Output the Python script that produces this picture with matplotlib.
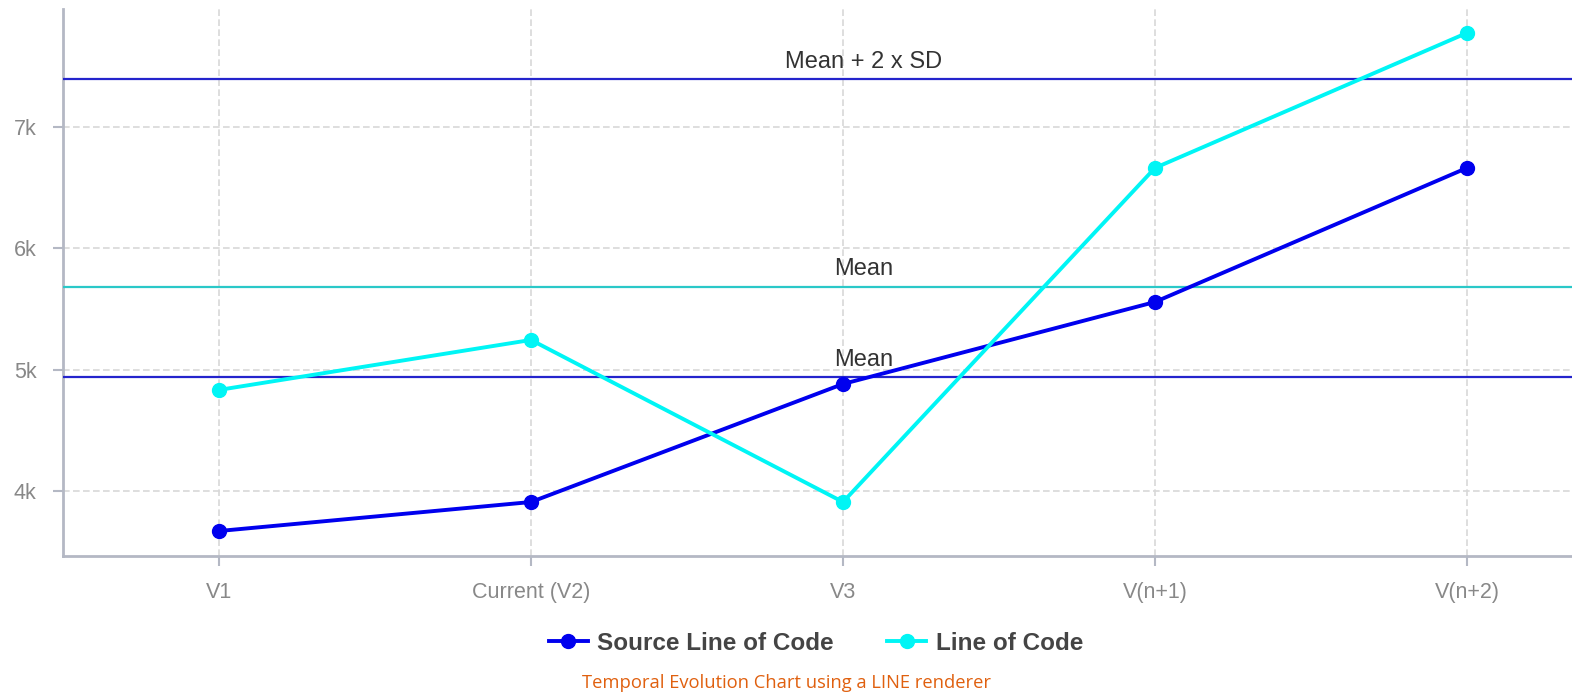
import numpy as np
import matplotlib.pyplot as plt
from matplotlib.ticker import FuncFormatter

plt.rcParams["font.family"] = ["Liberation Sans", "DejaVu Sans"]

versions = ["V1", "Current (V2)", "V3", "V(n+1)", "V(n+2)"]
source_loc = [3670, 3909, 4882, 5558, 6663]
line_loc = [4833, 5245, 3909, 6663, 7776]

BLUE = "#0000ee"
CYAN = "#00f5f5"

fig = plt.figure(figsize=(15.72, 6.97), dpi=100)
ax = fig.add_axes([63 / 1572, 1 - 556 / 697, 1 - 63 / 1572, (556 - 9) / 697])

x = np.arange(len(versions))
ax.plot(x, source_loc, color=BLUE, lw=2.8, marker="o", ms=10, zorder=4,
        label="Source Line of Code")
ax.plot(x, line_loc, color=CYAN, lw=2.8, marker="o", ms=10, zorder=4,
        label="Line of Code")

# reference lines from the data
src_mean = np.mean(source_loc)
src_sd = np.std(source_loc, ddof=1)
loc_mean = np.mean(line_loc)
ax.axhline(src_mean + 2 * src_sd, color="#2424cc", lw=1.6, zorder=3)
ax.axhline(loc_mean, color="#2ac8c8", lw=1.6, zorder=3)
ax.axhline(src_mean, color="#2424cc", lw=1.6, zorder=3)

lx = 2.065
for yv, txt in [(src_mean + 2 * src_sd, "Mean + 2 x SD"), (loc_mean, "Mean"), (src_mean, "Mean")]:
    ax.text(lx, yv + 50, txt, ha="center", va="bottom",
            fontsize=17, color="#333333", zorder=5)

ax.set_xlim(-0.5, -0.5 + (1572 - 63) / 312)
ax.set_ylim(3464, 7973)
ax.set_xticks(x)
ax.set_xticklabels(versions)
ax.set_yticks([4000, 5000, 6000, 7000])
ax.yaxis.set_major_formatter(FuncFormatter(lambda v, p: f"{int(v / 1000)}k"))

ax.grid(True, color="#d8d8d8", lw=1.2, ls=(0, (4, 2)), zorder=0)
for side in ["top", "right"]:
    ax.spines[side].set_visible(False)
for side in ["left", "bottom"]:
    ax.spines[side].set_color("#b4b8c4")
    ax.spines[side].set_linewidth(2)
ax.tick_params(colors="#b4b8c4", labelcolor="#888888", labelsize=15.5, length=7, width=1.5, pad=12)

leg = fig.legend(loc="center", bbox_to_anchor=(816 / 1572, 1 - 643 / 697), ncol=2, frameon=False,
                 prop={"weight": "bold", "size": 17.5}, handlelength=1.6, columnspacing=2.2,
                 handletextpad=0.4)
for t in leg.get_texts():
    t.set_color("#444444")

fig.text(0.5, 1 - 683 / 697, "Temporal Evolution Chart using a LINE renderer",
         ha="center", va="center", fontsize=13.2, color="#e0600f", family="Open Sans")

fig.savefig("out.png", dpi=100)
